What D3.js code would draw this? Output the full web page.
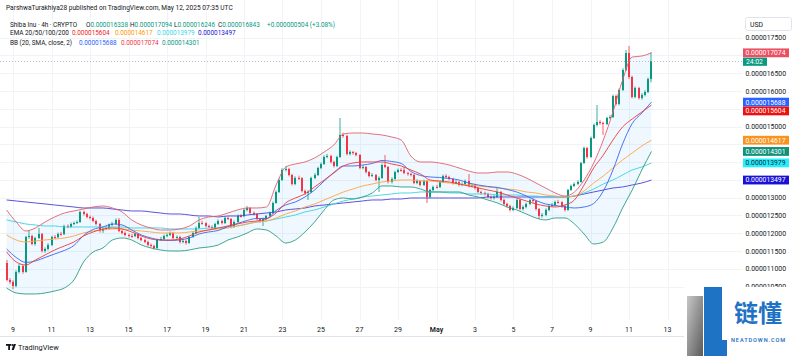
<!DOCTYPE html>
<html><head><meta charset="utf-8">
<script src="https://cdn.jsdelivr.net/npm/d3@7"></script>
<style>
body{margin:0;background:#fff;}
svg{display:block;font-family:Roboto,"Noto Sans",sans-serif;}
</style>
</head><body>
<svg id="c" width="800" height="356"></svg>
<script>
// ---------- DATA (prices in units of 1e-9) ----------
const candleStart = "2025-04-08T16:00:00Z";
const candleHours = 4;
const firstOpen = 11164;
const closes = [10686,10630,10518,10911,11080,10911,11896,11924,11699,11867,
11980,11502,11558,11671,11896,11890,11980,11975,12205,12177,
12261,12289,12317,12599,12542,12458,12430,12345,12261,12064,
12120,12149,12233,12261,12374,12064,12008,11952,11924,11920,
11980,11867,11811,11755,11671,11642,11586,11811,11839,11924,
11952,12008,11867,11896,11755,11783,11727,11896,12008,12149,
12289,12285,12205,12177,12149,12261,12345,12289,12430,12402,
12177,12317,12486,12480,12655,12711,12570,12542,12402,12345,
12402,12486,12570,12852,13161,13498,13780,13808,13639,13386,
13555,13550,13189,13133,13161,13555,13639,13836,13948,14145,
14173,14005,13892,14145,14764,14736,14230,14286,14258,14201,
13836,13864,13723,13611,13639,13498,13555,13920,13864,13442,
13527,13723,13780,13775,13695,13667,13639,13414,13470,13358,
13470,13021,13217,13302,13300,13442,13611,13583,13527,13414,
13442,13358,13386,13470,13330,13358,13274,13161,13133,13105,
13021,12992,13021,13161,12936,12824,12767,12655,12711,12936,
12683,12739,12824,12936,12908,12683,12486,12514,12655,12767,
12795,12880,12875,12767,12655,13217,13330,13386,13442,13976,
14398,14145,14679,15045,15129,15101,15073,15242,15270,15860,
15636,16029,16592,17070,16395,15832,16085,15804,15889,15973,
16338,16843];
const highs = [11250,10740,10680,10960,11140,11120,11930,12092,11960,11900,
12149,12010,11600,11720,11930,11950,12020,12040,12240,12250,
12300,12330,12360,12630,12640,12580,12500,12470,12380,12290,
12160,12200,12270,12320,12420,12430,12100,12050,11990,11980,
12020,12000,11900,11850,11790,11710,11680,11850,11900,11960,
12000,12050,12040,11940,11930,11830,11820,11930,12050,12190,
12458,12350,12310,12240,12220,12300,12390,12380,12470,12470,
12430,12360,12530,12540,12700,12767,12740,12610,12570,12430,
12440,12520,12610,12890,13200,13540,13830,13880,13840,13670,
13600,13620,13580,13230,13210,13590,13690,13870,13990,14190,
14230,14210,14040,14180,15242,14830,14770,14330,14320,14290,
14230,13910,13890,13750,13690,13670,13600,13960,14201,13890,
13570,13760,13820,13830,13864,13730,13700,13670,13520,13500,
13510,13500,13250,13340,13360,13480,13650,13660,13620,13560,
13490,13470,13430,13510,13667,13400,13390,13300,13200,13170,
13140,13060,13070,13302,13190,12970,12860,12800,12760,12980,
12970,12780,12860,12970,12980,12940,12710,12570,12700,12810,
12850,12920,12940,12900,12800,13250,13370,13430,13490,14010,
14440,14430,14720,15090,15607,15180,15140,15280,15320,15900,
15900,16070,16640,17154,17266,16430,16130,16120,15940,16020,
16380,17094];
const lows = [10650,10580,10430,10480,10870,10860,10890,11850,11660,11650,
11840,11460,11450,11520,11640,11840,11860,11930,11950,12140,
12150,12230,12260,12290,12500,12420,12390,12310,12220,12020,
12010,12090,12110,12200,12230,12030,11970,11910,11880,11870,
11890,11830,11770,11720,11630,11600,11540,11560,11780,11800,
11890,11920,11830,11840,11710,11720,11680,11700,11870,11980,
12120,12240,12170,12140,12110,12120,12230,12250,12260,12370,
12140,12150,12290,12440,12450,12620,12530,12500,12360,12300,
12205,12370,12450,12540,12830,13130,13470,13740,13600,13340,
13350,13500,13150,13080,12936,13130,13520,13610,13800,13920,
14110,13960,13850,13860,14120,14690,14190,14190,14210,14160,
13800,13800,13680,13570,13580,13460,13161,13530,13830,13400,
13400,13500,13690,13730,13660,13620,13600,13380,13380,13320,
13330,12852,12990,13180,13260,13270,13410,13540,13490,13370,
13380,13320,13320,13350,13290,13290,13230,13120,13090,13060,
12980,12950,12950,12990,12890,12780,12720,12610,12620,12680,
12640,12640,12700,12790,12860,12640,12400,12440,12480,12620,
12740,12760,12830,12720,12610,12630,13190,13300,13350,13420,
13950,14100,14120,14650,15000,15050,14764,15040,15200,15240,
15590,15600,16000,16560,16340,15790,15800,15760,15760,15850,
15940,16246];
const changeAbs = 504;      // as printed in the legend
const changePct = "3.08";   // as printed in the legend

const lineStart = "2025-04-08T16:00:00Z";
const lineHours = 12;
const bbUpper = [12655,12317,12064,12149,12317,12458,12570,12627,12683,12739,
12767,12711,12599,12374,12233,12149,12092,12092,12121,12205,
12374,12458,12486,12570,12655,12711,12711,12739,13358,13864,
13948,14005,14117,14286,14483,14792,14820,14820,14792,14764,
14708,14623,14173,14005,14005,13976,13920,13836,13751,13695,
13695,13723,13723,13667,13555,13414,13273,13133,13048,13161,
13498,13976,14623,15411,16310,16957,16985,17074];
const bbLower = [10461,10321,10293,10293,10321,10377,10461,10686,11193,11474,
11586,11811,11867,11811,11671,11586,11530,11502,11502,11530,
11586,11614,11671,11811,11896,12008,12121,12092,11924,11727,
11811,12036,12317,12655,12936,12992,12964,13020,13133,13330,
13330,13302,13302,13245,13161,13161,13161,13161,13077,13020,
12936,12852,12739,12655,12542,12430,12374,12430,12430,12261,
11980,11699,11755,12149,12711,13217,13780,14301];
const bbBasis = [11558,11319,11179,11221,11319,11418,11516,11657,11938,12107,
12177,12261,12233,12093,11952,11868,11811,11797,11812,11868,
11980,12036,12079,12191,12276,12360,12416,12416,12641,12796,
12880,13021,13217,13471,13710,13892,13892,13920,13963,14047,
14019,13963,13738,13625,13583,13569,13541,13499,13414,13358,
13316,13288,13231,13161,13049,12922,12824,12782,12739,12711,
12739,12838,13189,13780,14511,15087,15383,15688];
const ema20 = [11474,11193,11108,11249,11389,11530,11642,11755,11924,12036,
12121,12149,12121,12036,11924,11839,11811,11811,11839,11924,
12036,12092,12149,12205,12261,12317,12345,12402,12570,12852,
12992,13105,13302,13498,13695,13892,13976,14005,14005,14005,
13948,13892,13780,13667,13498,13470,13442,13386,13330,13273,
13217,13161,13077,12992,12908,12824,12767,12739,12795,12936,
13358,13836,14201,14623,14989,15214,15411,15604];
const ema50 = [11952,11811,11755,11783,11811,11839,11867,11924,12008,12064,
12092,12121,12121,12092,12064,12036,12008,12008,12008,12036,
12064,12092,12121,12149,12205,12261,12317,12345,12430,12542,
12627,12739,12824,12936,13048,13161,13245,13330,13386,13442,
13470,13498,13498,13470,13470,13442,13414,13386,13358,13330,
13302,13273,13245,13217,13161,13133,13077,13048,13020,13048,
13189,13414,13611,13836,14061,14258,14454,14617];
const ema100 = [12374,12317,12261,12233,12205,12205,12177,12177,12177,12177,
12177,12177,12177,12149,12149,12149,12149,12121,12121,12121,
12121,12149,12149,12177,12205,12261,12317,12345,12402,12458,
12514,12599,12655,12739,12824,12908,12964,13020,13048,13077,
13105,13133,13133,13161,13161,13161,13133,13133,13105,13105,
13105,13077,13077,13077,13048,13048,13020,13020,13020,13048,
13133,13245,13386,13498,13639,13780,13864,13979];
const ema200 = [12936,12908,12880,12852,12824,12795,12767,12739,12711,12711,
12711,12683,12655,12627,12627,12599,12570,12542,12542,12514,
12486,12486,12458,12486,12486,12514,12542,12570,12599,12655,
12683,12711,12767,12795,12824,12852,12880,12908,12936,12936,
12964,12964,12992,12992,12992,12992,12992,12992,12992,12992,
13020,13020,13020,13020,13020,13020,13020,13020,13020,13048,
13105,13161,13217,13273,13302,13358,13414,13497];

const priceTicks = [10500,11000,11500,12000,12500,13000,13500,14000,14500,15000,15500,16000,16500,17000,17500];
const dateTicks = ["2025-04-09","2025-04-11","2025-04-13","2025-04-15","2025-04-17","2025-04-19","2025-04-21","2025-04-23","2025-04-25","2025-04-27","2025-04-29","2025-05-01","2025-05-03","2025-05-05","2025-05-07","2025-05-09","2025-05-11","2025-05-13"];
const dateLabels = ["9","11","13","15","17","19","21","23","25","27","29","May","3","5","7","9","11","13"];
const countdown = "24:02";

// ---------- SCALES ----------
const svg = d3.select("#c");
const PLOT_R = 742;
const x = d3.scaleUtc().domain([new Date("2025-04-09T00:00:00Z"), new Date("2025-05-13T00:00:00Z")]).range([13, 667.5]);
const y = d3.scaleLinear().domain([10500, 17500]).range([286.6, 37.7]);
const fmt = v => (v * 1e-9).toFixed(9);

const t0 = new Date(candleStart).getTime();
const candles = closes.map((c, i) => ({
  t: new Date(t0 + i * candleHours * 3600e3),
  o: i === 0 ? firstOpen : closes[i - 1], h: highs[i], l: lows[i], c
}));
const l0 = new Date(lineStart).getTime();
const lt = bbUpper.map((_, i) => new Date(l0 + i * lineHours * 3600e3));

const UP = "#089981", DN = "#f23645";

// ---------- GRID ----------
const grid = svg.append("g");
grid.selectAll(".hg").data(priceTicks).join("line")
  .attr("x1", 0).attr("x2", PLOT_R).attr("y1", d => Math.round(y(d)) + 0.5).attr("y2", d => Math.round(y(d)) + 0.5)
  .attr("stroke", "#f2f3f7").attr("stroke-width", 1);
grid.selectAll(".vg").data(dateTicks).join("line")
  .attr("x1", d => Math.round(x(new Date(d + "T00:00:00Z"))) + 0.5).attr("x2", d => Math.round(x(new Date(d + "T00:00:00Z"))) + 0.5)
  .attr("y1", 0).attr("y2", 320)
  .attr("stroke", "#f2f3f7").attr("stroke-width", 1);

// ---------- BB FILL ----------
const idx = d3.range(bbUpper.length);
svg.append("path").datum(idx)
  .attr("d", d3.area().curve(d3.curveMonotoneX).x(i => x(lt[i])).y0(i => y(bbLower[i])).y1(i => y(bbUpper[i])))
  .attr("fill", "rgba(33,150,243,0.07)");

// ---------- CANDLES ----------
const cg = svg.append("g");
candles.forEach(d => {
  const px = Math.round(x(d.t));
  const col = d.c >= d.o ? UP : DN;
  cg.append("line").attr("x1", px).attr("x2", px).attr("y1", y(d.h)).attr("y2", y(d.l))
    .attr("stroke", col).attr("stroke-width", 0.8);
  const yt = y(Math.max(d.o, d.c)), yb = y(Math.min(d.o, d.c));
  cg.append("rect").attr("x", px - 1).attr("width", 2).attr("y", yt).attr("height", Math.max(1, yb - yt))
    .attr("fill", col);
});

// ---------- INDICATOR LINES ----------
const lineGen = arr => d3.line().curve(d3.curveMonotoneX).x(i => x(lt[i])).y(i => y(arr[i]))(idx);
const series = [
  [ema200, "#4a3fd6", 0.9],
  [ema100, "#45d3e6", 0.95],
  [ema50, "#ffa64a", 0.95],
  [bbLower, "#2c9c82", 0.9],
  [bbUpper, "#e4606c", 0.9],
  [bbBasis, "#3a66f0", 0.9],
  [ema20, "#f03a3a", 0.9]
];
series.forEach(([arr, col, op]) => {
  svg.append("path").attr("d", lineGen(arr)).attr("fill", "none")
    .attr("stroke", col).attr("stroke-opacity", op).attr("stroke-width", 1);
});

// current price line
const lastC = closes[closes.length - 1];
svg.append("line").attr("x1", 0).attr("x2", PLOT_R)
  .attr("y1", Math.round(y(lastC)) + 0.5).attr("y2", Math.round(y(lastC)) + 0.5)
  .attr("stroke", "#9aa3b5").attr("stroke-width", 0.7).attr("stroke-dasharray", "1,2");

// ---------- TIME AXIS ----------
svg.append("line").attr("x1", 0).attr("x2", PLOT_R).attr("y1", 336.5).attr("y2", 336.5)
  .attr("stroke", "#e0e3eb").attr("stroke-width", 1);
svg.append("g").selectAll("text").data(dateTicks).join("text")
  .attr("x", d => x(new Date(d + "T00:00:00Z"))).attr("y", 331.5)
  .attr("text-anchor", "middle").attr("font-size", 7).attr("fill", "#131722")
  .attr("font-weight", (d, i) => dateLabels[i] === "May" ? 600 : 400)
  .text((d, i) => dateLabels[i]);

// ---------- PRICE AXIS TAGS (positions) ----------
const TAG_H = 8.8, TFS = 6.8;
const tags = [
  {v: bbUpper[bbUpper.length - 1], bg: "#ec4f62", fg: "#fff"},
  {v: bbBasis[bbBasis.length - 1], bg: "#2962ff", fg: "#fff"},
  {v: ema20[ema20.length - 1], bg: "#ee1010", fg: "#fff"},
  {v: ema50[ema50.length - 1], bg: "#f7931e", fg: "#fff"},
  {v: bbLower[bbLower.length - 1], bg: "#10927a", fg: "#fff"},
  {v: ema100[ema100.length - 1], bg: "#22f0ff", fg: "#1b2530"},
  {v: ema200[ema200.length - 1], bg: "#1a10d8", fg: "#fff"}
].map(d => ({...d, cy: y(d.v)})).sort((a, b) => a.cy - b.cy);
for (let i = 1; i < tags.length; i++) {
  if (tags[i].cy - tags[i - 1].cy < TAG_H) tags[i].cy = tags[i - 1].cy + TAG_H;
}
const cdy = y(lastC);
const cdTop = 57.6, cdH = 8.2;
const blocked = tags.map(d => [d.cy - TAG_H / 2, d.cy + TAG_H / 2]).concat([[cdTop, cdTop + cdH]]);
const visibleTicks = priceTicks.filter(v => {
  const a = y(v) - 3.5, b = y(v) + 3.5;
  return !blocked.some(([t, u]) => Math.min(b, u) - Math.max(a, t) > 2);
});

// ---------- PRICE AXIS ----------
svg.append("g").selectAll("text").data(visibleTicks).join("text")
  .attr("x", 745.5).attr("y", d => y(d) + 2.5)
  .attr("font-size", 6.9).attr("fill", "#131722").text(d => fmt(d));

// USD box
svg.append("rect").attr("x", 745.5).attr("y", 17.5).attr("width", 46).attr("height", 13).attr("rx", 2)
  .attr("fill", "#fff").attr("stroke", "#e0e3eb");
svg.append("text").attr("x", 750).attr("y", 26.5).attr("font-size", 6.9).attr("fill", "#131722").text("USD");

// countdown box under the close
svg.append("rect").attr("x", 743).attr("y", cdTop).attr("width", 24).attr("height", cdH).attr("fill", UP);
svg.append("text").attr("x", 746).attr("y", cdTop + 6.3).attr("font-size", TFS).attr("fill", "#fff").text(countdown);
tags.forEach(d => {
  svg.append("rect").attr("x", 743).attr("y", d.cy - TAG_H / 2).attr("width", 46).attr("height", TAG_H)
    .attr("fill", d.bg);
  svg.append("text").attr("x", 745.5).attr("y", d.cy + 2.4).attr("font-size", TFS).attr("fill", d.fg).text(fmt(d.v));
});

// ---------- HEADER & LEGEND ----------
const FS = 6.4, DARK = "#131722";
svg.append("text").attr("x", 6).attr("y", 9.6).attr("font-size", 6.6).attr("fill", DARK)
  .text("ParshwaTurakhiya28 published on TradingView.com, May 12, 2025 07:35 UTC");
function seg(xp, yp, parts) {
  const t = svg.append("text").attr("x", xp).attr("y", yp).attr("font-size", FS);
  parts.forEach(([s, c]) => t.append("tspan").attr("fill", c).text(s));
}
const last = candles[candles.length - 1];
seg(10, 26.5, [["Shiba Inu · 4h · CRYPTO", DARK]]);
seg(86, 26.5, [["O", DARK], [fmt(last.o), UP]]);
seg(130, 26.5, [["H", DARK], [fmt(last.h), UP]]);
seg(174, 26.5, [["L", DARK], [fmt(last.l), UP]]);
seg(218, 26.5, [["C", DARK], [fmt(last.c), UP]]);
seg(267, 26.5, [["+" + fmt(changeAbs) + " (+" + changePct + "%)", UP]]);
seg(10, 35.4, [["EMA 20/50/100/200", DARK]]);
seg(72, 35.4, [[fmt(ema20[ema20.length - 1]), "#ee1c1c"]]);
seg(115, 35.4, [[fmt(ema50[ema50.length - 1]), "#ff9800"]]);
seg(157, 35.4, [[fmt(ema100[ema100.length - 1]), "#3ad6ea"]]);
seg(198, 35.4, [[fmt(ema200[ema200.length - 1]), "#1a10d8"]]);
seg(10, 44.5, [["BB (20, SMA, close, 2)", DARK]]);
seg(79, 44.5, [[fmt(bbBasis[bbBasis.length - 1]), "#2962ff"]]);
seg(121, 44.5, [[fmt(bbUpper[bbUpper.length - 1]), "#f23645"]]);
seg(162, 44.5, [[fmt(bbLower[bbLower.length - 1]), UP]]);

// ---------- TradingView logo ----------
const tv = svg.append("g").attr("fill", DARK);
tv.append("rect").attr("x", 6).attr("y", 344).attr("width", 5).attr("height", 1.8);
tv.append("rect").attr("x", 8.2).attr("y", 344).attr("width", 1.8).attr("height", 6);
tv.append("circle").attr("cx", 12.3).attr("cy", 345).attr("r", 1);
tv.append("path").attr("d", "M13.6,344 L16,344 L13.8,350 L11.6,350 Z");
svg.append("text").attr("x", 18).attr("y", 349.8).attr("font-size", 7.4).attr("fill", DARK).text("TradingView");

// ---------- watermark ----------
const wm = svg.append("g");
wm.append("rect").attr("x", 684).attr("y", 287).attr("width", 116).attr("height", 69).attr("fill", "#fff");
const grad = svg.append("defs").append("linearGradient").attr("id", "gg").attr("x1", 0).attr("y1", 0).attr("x2", 1).attr("y2", 1);
grad.append("stop").attr("offset", 0).attr("stop-color", "#c8c8c8");
grad.append("stop").attr("offset", 1).attr("stop-color", "#5a5a5a");
wm.append("path").attr("d", "M687,296 L703,296 L703,356 L687,356 Z").attr("fill", "url(#gg)");
wm.append("path").attr("d", "M704,287 L722,287 L722,340 L727,340 L727,356 L704,356 Z").attr("fill", "#1f73c4");
wm.append("text").attr("x", 734).attr("y", 322).attr("font-size", 24).attr("font-weight", 700)
  .attr("font-family", "'Noto Sans CJK SC',sans-serif").attr("fill", "#1f73c4").text("链懂");
wm.append("text").attr("x", 731).attr("y", 342).attr("font-size", 5.6).attr("letter-spacing", 0.9)
  .attr("font-weight", 600).attr("fill", "#1f73c4").text("NEATDOWN.COM");
</script>
</body></html>
